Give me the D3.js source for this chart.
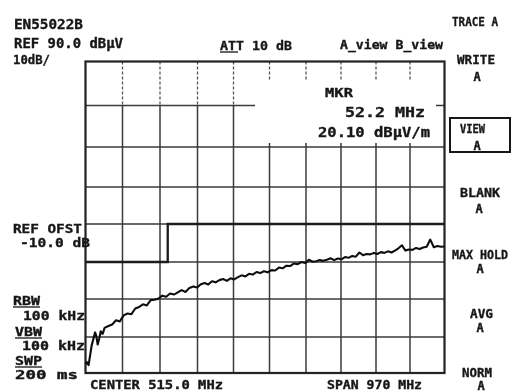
<!DOCTYPE html>
<html lang="en">
<head>
<meta charset="utf-8">
<title>EN55022B sweep</title>
<script src="https://d3js.org/d3.v7.min.js"></script>
<style>
body { margin: 0; background: #fff; }
text { font-family: "DejaVu Sans Mono", monospace; font-weight: bold; fill: #161616;
       stroke: #161616; stroke-width: 0.35px; }
</style>
</head>
<body>
<div id="chart"></div>
<script>
// grid divisions of the analyser screen
var freqDivs = [30, 127, 224, 321, 418, 515, 612, 709, 806, 903, 1000];   // MHz
var levelDivs = [90, 80, 70, 60, 50, 40, 30, 20, 10];                     // dBuV

// max hold trace read from the print
var traceFreq = [30, 34, 38, 42, 46, 50, 52.2, 55, 58, 62, 66, 70, 75, 80, 90,
  100, 110, 120, 130, 140, 150, 160, 170, 180, 190, 200, 210, 220, 230, 240, 250,
  260, 270, 280, 290, 300, 310, 320, 330, 340, 350, 360, 370, 380, 390, 400,
  410, 420, 430, 440, 450, 460, 470, 480, 490, 500, 510, 520, 530, 540, 550,
  560, 570, 580, 590, 600, 610, 620, 630, 640, 650, 660, 670, 680, 690, 700,
  710, 720, 730, 740, 750, 760, 770, 780, 790, 800, 810, 820, 830, 840, 850,
  860, 870, 880, 890, 900, 910, 920, 930, 940, 950, 960, 970, 980, 990, 1000];
var traceLevel = [12.4, 13.0, 12.2, 14.8, 17.6, 19.2, 20.1, 21.2, 20.4, 17.9, 19.6, 21.5, 20.8, 22.4, 22.9,
  23.3, 24.4, 24.1, 25.7, 26.2, 26.0, 27.5, 27.9, 28.6, 28.3, 29.7, 29.8, 30.1, 30.9, 30.6, 31.5,
  31.2, 31.8, 32.4, 31.9, 33.0, 33.4, 33.1, 34.0, 34.3, 33.9, 34.8, 34.5, 35.1, 35.4, 34.9,
  35.6, 35.3, 35.9, 36.4, 36.1, 36.8, 36.6, 37.3, 37.0, 37.5, 37.2, 37.8, 37.7, 38.5, 38.3,
  39.0, 38.9, 39.6, 39.4, 40.0, 39.7, 40.6, 40.1, 40.2, 40.5, 40.3, 40.6, 41.0, 40.5, 40.9,
  40.7, 41.3, 41.1, 41.6, 41.4, 42.5, 41.8, 42.1, 42.0, 42.4, 42.1, 42.6, 42.4, 42.8, 42.5,
  43.0, 43.6, 44.4, 43.0, 43.3, 43.2, 43.7, 43.4, 43.8, 44.0, 45.9, 43.9, 44.2, 44.0, 44.1];

// EN55022 class B limit line
var limitFreq = [30, 244, 244, 1000];
var limitLevel = [40, 40, 50, 50];

var width = 512, height = 392;

var svg = d3.select("#chart").append("svg")
    .attr("width", width).attr("height", height);

svg.append("defs").append("filter").attr("id", "soft")
  .append("feGaussianBlur").attr("stdDeviation", 0.35);
var ink = svg.append("g").attr("filter", "url(#soft)");

// the print is slightly stretched, so the scales follow the printed grid
var x = d3.scaleLinear().domain(freqDivs)
    .range([85.5, 122.5, 160, 197.5, 233.5, 269.5, 306, 341, 376, 410, 444.5]);
var y = d3.scaleLinear().domain(levelDivs)
    .range([61.5, 105.5, 147, 187, 224, 262, 299, 337, 373]);

var x0 = x(30), x1 = x(1000), yTop = y(90), yBot = y(10);

// vertical grid: dashed in the top row, solid below
ink.selectAll(".vtop").data(freqDivs.slice(1, -1)).enter().append("line")
  .attr("x1", function (d) { return x(d); }).attr("x2", function (d) { return x(d); })
  .attr("y1", yTop).attr("y2", y(80))
  .attr("stroke", "#555").attr("stroke-width", 1.3).attr("stroke-dasharray", "3,2");
ink.selectAll(".vgrid").data(freqDivs.slice(1, -1)).enter().append("line")
  .attr("x1", function (d) { return x(d); }).attr("x2", function (d) { return x(d); })
  .attr("y1", y(80)).attr("y2", yBot)
  .attr("stroke", "#3a3a3a").attr("stroke-width", 1.5);
ink.selectAll(".hgrid").data(levelDivs.slice(1, -1)).enter().append("line")
  .attr("x1", x0).attr("x2", x1)
  .attr("y1", function (d) { return y(d); }).attr("y2", function (d) { return y(d); })
  .attr("stroke", "#3a3a3a").attr("stroke-width", 1.5);

// marker readout blanks the grid behind it
ink.append("rect").attr("x", 255).attr("y", 80).attr("width", 181).attr("height", 63)
  .attr("fill", "#fff");

// frame
ink.append("rect").attr("x", x0).attr("y", yTop)
  .attr("width", x1 - x0).attr("height", yBot - yTop)
  .attr("fill", "none").attr("stroke", "#222").attr("stroke-width", 2.2);

// limit line
var limit = limitFreq.map(function (f, i) { return [f, limitLevel[i]]; });
ink.append("path").datum(limit)
  .attr("d", d3.line().x(function (d) { return x(d[0]); }).y(function (d) { return y(d[1]); }))
  .attr("fill", "none").attr("stroke", "#1a1a1a").attr("stroke-width", 2.3);

// trace
var trace = traceFreq.map(function (f, i) { return [f, traceLevel[i]]; });
ink.append("path").datum(trace)
  .attr("d", d3.line().x(function (d) { return x(d[0]); }).y(function (d) { return y(d[1]); }))
  .attr("fill", "none").attr("stroke", "#111").attr("stroke-width", 2.1)
  .attr("stroke-linejoin", "round");

// printed annotations: [text, x, baseline, width, font size]
var labels = [
  ["EN55022B", 14, 29, 69, 13.5],
  ["REF 90.0 dB\u00b5V", 14, 48, 109, 13.5],
  ["10dB/", 13, 64, 37, 13],
  ["ATT 10 dB", 220, 50, 72, 13],
  ["A_view B_view", 340, 49, 103, 13],
  ["TRACE A", 452, 26, 46, 13],
  ["WRITE", 457, 64, 38, 13],
  ["VIEW", 460, 133, 25, 12],
  ["BLANK", 460, 197, 40, 13],
  ["MAX HOLD", 452, 259, 56, 12.5],
  ["AVG", 470, 318, 23, 13],
  ["NORM", 462, 377, 30, 13],
  ["REF OFST", 13, 233, 69, 13],
  ["-10.0 dB", 20, 247, 70, 13],
  ["RBW", 13, 305, 27, 12],
  ["100 kHz", 23, 320, 62, 12],
  ["VBW", 15, 336, 27, 12],
  ["100 kHz", 22, 350, 63, 12],
  ["SWP", 15, 365, 27, 12],
  ["200 ms", 15, 379, 63, 11.5],
  ["CENTER 515.0 MHz", 90, 389, 133, 12],
  ["SPAN 970 MHz", 327, 389, 95, 12],
  ["MKR", 325, 97, 28, 13],
  ["52.2  MHz", 345, 117, 80, 13.5],
  ["20.10 dB\u00b5V/m", 318, 137, 112, 13.5]
];
ink.selectAll(".lbl").data(labels).enter().append("text")
  .attr("x", function (d) { return d[1]; })
  .attr("y", function (d) { return d[2]; })
  .attr("textLength", function (d) { return d[3]; })
  .attr("lengthAdjust", "spacingAndGlyphs")
  .style("font-size", function (d) { return d[4] + "px"; })
  .text(function (d) { return d[0]; });

// the "A" under each soft key
var keyA = [[477, 81], [477, 150], [479, 213], [480, 273], [480, 332], [481, 390]];
ink.selectAll(".ka").data(keyA).enter().append("text")
  .attr("x", function (d) { return d[0]; }).attr("y", function (d) { return d[1]; })
  .attr("text-anchor", "middle").style("font-size", "12px").text("A");

// underlined headings
var unders = [[220, 238, 52], [13, 40, 307], [15, 42, 338], [15, 42, 367]];
ink.selectAll(".ul").data(unders).enter().append("line")
  .attr("x1", function (d) { return d[0]; }).attr("x2", function (d) { return d[1]; })
  .attr("y1", function (d) { return d[2]; }).attr("y2", function (d) { return d[2]; })
  .attr("stroke", "#161616").attr("stroke-width", 1.3);

// selected soft key box
ink.append("rect").attr("x", 450).attr("y", 118).attr("width", 60).attr("height", 34)
  .attr("fill", "none").attr("stroke", "#161616").attr("stroke-width", 2);
</script>
</body>
</html>
